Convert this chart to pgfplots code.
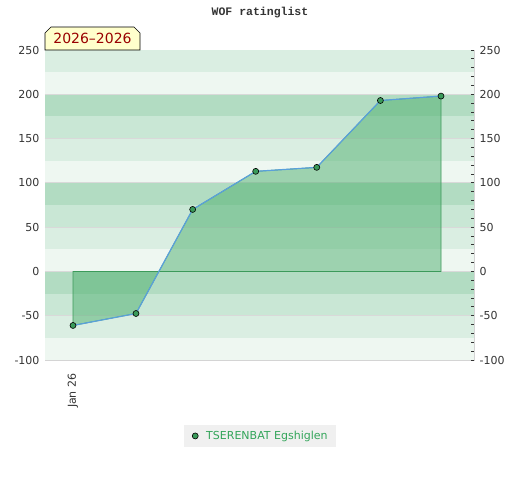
\documentclass[border=0pt]{standalone}
\usepackage{fontspec}
\setmainfont{DejaVu Sans}
\newfontfamily\titlefont{Liberation Mono}
\usepackage{pgfplots}
\pgfplotsset{compat=1.18}
\usetikzlibrary{shapes.misc}

\definecolor{bandA}{HTML}{B2DCC2}
\definecolor{bandB}{HTML}{C9E7D5}
\definecolor{bandC}{HTML}{DAEEE2}
\definecolor{bandD}{HTML}{EEF7F1}
\definecolor{areagreen}{HTML}{4DAF6E}
\definecolor{edgegreen}{HTML}{3C9A5A}
\definecolor{linecol}{HTML}{5AA0DC}
\definecolor{markgreen}{HTML}{3A9A5A}
\definecolor{labelgray}{HTML}{333333}
\definecolor{framegray}{HTML}{D4D4D4}
\definecolor{legtext}{HTML}{33A55A}
\definecolor{badgefill}{HTML}{FFFFCC}
\definecolor{badgetext}{HTML}{990000}

\begin{document}
\begin{tikzpicture}[x=1pt,y=1pt]
\path[use as bounding box] (0,0) rectangle (520,-480);

\node[font=\titlefont\bfseries\fontsize{11.5}{13}\selectfont, text=labelgray] at (260,-13) {WOF ratinglist};

% main axis: left labels, data
\begin{axis}[
    at={(45pt,-360pt)}, anchor=south west,
    scale only axis, width=429pt, height=310pt,
    xmin=-0.4566, xmax=6.538,
    ymin=-100, ymax=250,
    ytick={-100,-50,0,50,100,150,200,250},
    yticklabels={-100,-50,0,50,100,150,200,250},
    xtick={0}, xticklabels={Jan 26},
    major tick length=0pt,
    axis line style={framegray},
    tick label style={font=\fontsize{11}{13}\selectfont, text=labelgray},
    x tick label style={rotate=90, anchor=east},
    xticklabel shift=10pt,
    yticklabel style={xshift=-2pt},
    clip=false,
    legend style={at={(0.501,-0.245)}, anchor=center, fill=black!6, draw=none,
        font=\fontsize{11}{13}\selectfont, text=legtext, inner xsep=6pt, inner ysep=4pt},
]
% background bands
\fill[bandC] (axis cs:-0.4566,225) rectangle (axis cs:6.538,250);
\fill[bandD] (axis cs:-0.4566,200) rectangle (axis cs:6.538,225);
\fill[bandA] (axis cs:-0.4566,175) rectangle (axis cs:6.538,200);
\fill[bandB] (axis cs:-0.4566,150) rectangle (axis cs:6.538,175);
\fill[bandC] (axis cs:-0.4566,125) rectangle (axis cs:6.538,150);
\fill[bandD] (axis cs:-0.4566,100) rectangle (axis cs:6.538,125);
\fill[bandA] (axis cs:-0.4566,75) rectangle (axis cs:6.538,100);
\fill[bandB] (axis cs:-0.4566,50) rectangle (axis cs:6.538,75);
\fill[bandC] (axis cs:-0.4566,25) rectangle (axis cs:6.538,50);
\fill[bandD] (axis cs:-0.4566,0) rectangle (axis cs:6.538,25);
\fill[bandA] (axis cs:-0.4566,-25) rectangle (axis cs:6.538,0);
\fill[bandB] (axis cs:-0.4566,-50) rectangle (axis cs:6.538,-25);
\fill[bandC] (axis cs:-0.4566,-75) rectangle (axis cs:6.538,-50);
\fill[bandD] (axis cs:-0.4566,-100) rectangle (axis cs:6.538,-75);
\pgfplotsinvokeforeach{-50,0,50,100,150,200}{
  \draw[black!15, line width=0.8pt] (axis cs:-0.4566,#1) -- (axis cs:6.538,#1);
}

% filled area to zero
\addplot[fill=areagreen, fill opacity=0.5, draw=edgegreen, line width=0.7pt, forget plot]
  coordinates {(0,-61) (1.027,-47.5) (1.951,70) (2.979,113) (3.974,117.5) (5.012,193) (6,198)}
  \closedcycle;

% rating line with markers
\addplot[linecol, line width=1.2pt, mark=*, mark size=3pt,
    mark options={fill=markgreen, draw=black, line width=0.6pt},
    legend image code/.code={
      \path[draw=none, fill=none] (0pt,-1pt) rectangle (14pt,1pt);
      \path[draw=none] plot[mark=*, mark size=3pt, mark options={fill=markgreen, draw=black, line width=0.6pt}] coordinates {(5pt,0pt)};}]
  coordinates {(0,-61) (1.027,-47.5) (1.951,70) (2.979,113) (3.974,117.5) (5.012,193) (6,198)};
\addlegendentry{TSERENBAT Egshiglen}
\end{axis}

% right axis: ticks and labels
\begin{axis}[
    at={(45pt,-360pt)}, anchor=south west,
    scale only axis, width=429pt, height=310pt,
    xmin=-0.4566, xmax=6.538,
    ymin=-100, ymax=250,
    axis y line*=right, axis x line=none,
    ytick={-100,-50,0,50,100,150,200,250},
    yticklabels={-100,-50,0,50,100,150,200,250},
    minor y tick num=4,
    tick align=inside,
    major tick length=3pt, minor tick length=3pt,
    tick style={black!80, line width=0.8pt},
    y axis line style={framegray},
    yticklabel style={font=\fontsize{11}{13}\selectfont, text=labelgray, xshift=2pt},
]
\end{axis}

% period badge
\node[chamfered rectangle, chamfered rectangle corners={north west,north east},
      chamfered rectangle xsep=3pt, chamfered rectangle ysep=3pt,
      draw=black, fill=badgefill, line width=0.7pt, text=badgetext,
      minimum width=95pt, minimum height=23pt, inner sep=0pt,
      font=\fontsize{14}{16}\selectfont] at (92.5,-38.5) {2026--2026};
\end{tikzpicture}
\end{document}
